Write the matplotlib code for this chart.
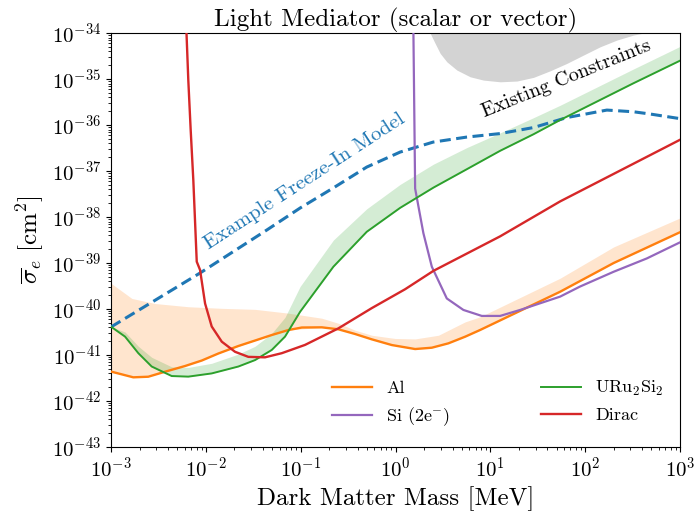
import numpy as np
import matplotlib
matplotlib.use("Agg")
import matplotlib.pyplot as plt
from matplotlib.ticker import LogLocator, NullFormatter

plt.rcParams['font.family'] = 'serif'
plt.rcParams['font.serif'] = ['cmr10']
plt.rcParams['mathtext.fontset'] = 'cm'
plt.rcParams['axes.formatter.use_mathtext'] = True

# ---- data (log10 mass [MeV], log10 cross section [cm^2]) ----
al_logm = [-3.0, -2.765, -2.607, -2.430, -2.219, -2.043, -1.868, -1.657, -1.481, -1.305, -1.130, -0.988,
           -0.777, -0.602, -0.426, -0.250, -0.039, 0.207, 0.383, 0.558, 0.734, 0.892, 1.736, 2.30, 3.0]
al_logs = [-41.36, -41.485, -41.472, -41.363, -41.239, -41.120, -40.967, -40.804, -40.685, -40.565, -40.457, -40.402,
           -40.398, -40.441, -40.543, -40.659, -40.783, -40.870, -40.841, -40.746, -40.602, -40.456, -39.624, -39.0, -38.33]
al_band_logm = [-3.0, -2.78, -2.536, -2.185, -1.832, -1.481, -1.130, -0.777, -0.602, -0.426, -0.250, -0.004,
                0.207, 0.453, 0.734, 0.892, 1.736, 2.30, 3.0]
al_band_up = [-39.44, -39.77, -39.88, -39.95, -39.985, -40.007, -40.09, -40.20, -40.31, -40.46, -40.57, -40.64,
              -40.65, -40.57, -40.28, -40.17, -39.33, -38.65, -38.02]

uru_logm = [-3.0, -2.852, -2.712, -2.571, -2.36, -2.185, -1.938, -1.657, -1.481, -1.305, -1.165, -1.006,
            -0.655, -0.303, 0.049, 0.40, 0.752, 1.103, 1.455, 1.736, 2.51, 3.0]
uru_logs = [-40.384, -40.60, -40.96, -41.25, -41.457, -41.47, -41.40, -41.25, -41.11, -40.89, -40.60, -40.06,
            -39.08, -38.32, -37.80, -37.36, -36.96, -36.56, -36.20, -35.89, -35.09, -34.6]
uru_band_off = [0.0, 0.1, 0.15, 0.2, 0.2, 0.2, 0.22, 0.27, 0.3, 0.36, 0.42, 0.55,
                0.58, 0.5, 0.51, 0.51, 0.47, 0.39, 0.36, 0.32, 0.31, 0.31]

dirac_logm = [-2.204, -2.185, -2.16, -2.132, -2.096, -2.061, -2.008, -1.938, -1.832, -1.692, -1.552, -1.376,
              -1.199, -0.954, -0.602, -0.250, 0.101, 0.40, 1.103, 1.736, 3.0]
dirac_logs = [-34.0, -35.02, -36.1, -37.2, -38.97, -39.15, -39.88, -40.38, -40.71, -40.93, -41.04, -41.05,
              -40.96, -40.78, -40.42, -39.98, -39.57, -39.17, -38.42, -37.66, -36.32]

si_logm = [0.189, 0.207, 0.294, 0.383, 0.541, 0.716, 0.910, 1.103, 1.314, 1.736, 1.947, 2.30, 2.65, 3.0]
si_logs = [-34.0, -37.38, -38.35, -39.08, -39.77, -40.02, -40.15, -40.15, -40.02, -39.73, -39.51, -39.19, -38.9, -38.55]

fi_logm = [-3.0, -2.061, -1.358, -1.006, -0.658, -0.303, 0.049, 0.397, 0.752, 1.103, 1.455, 1.807, 2.229, 2.510, 2.686, 3.0]
fi_logs = [-40.39, -39.217, -38.283, -37.804, -37.370, -36.913, -36.587, -36.370, -36.261, -36.185, -36.054, -35.837,
           -35.674, -35.711, -35.76, -35.86]

con_logm = [0.365, 0.418, 0.471, 0.541, 0.647, 0.787, 0.927, 1.103, 1.280, 1.455, 1.631, 1.807, 1.982, 2.158, 2.334, 2.510, 2.615]
con_logs = [-34.0, -34.224, -34.441, -34.624, -34.804, -34.950, -35.022, -35.059, -35.043, -34.963, -34.820, -34.659,
            -34.478, -34.298, -34.152, -34.043, -34.0]

def p(a):
    return 10.0 ** np.asarray(a, dtype=float)

fig = plt.figure(figsize=(6.96, 5.17), dpi=100)
ax = fig.add_axes([0.1595, 0.1354, 0.8175, 0.8006])

# existing constraints
ax.fill_between(p(con_logm), p(con_logs), 1e-30, color='#d3d3d3', lw=0, zorder=1)

# bands
ax.fill_between(p(al_band_logm), p(np.interp(al_band_logm, al_logm, al_logs)), p(al_band_up),
                color='#ff7f0e', alpha=0.2, lw=0, zorder=1)
ax.fill_between(p(uru_logm), p(uru_logs), p(np.add(uru_logs, uru_band_off)),
                color='#2ca02c', alpha=0.2, lw=0, zorder=1)

ax.plot(p(fi_logm), p(fi_logs), color='#1f77b4', ls=(0, (3.6, 1.8)), lw=2.2, zorder=3)
l_al, = ax.plot(p(al_logm), p(al_logs), color='#ff7f0e', lw=1.7, label='Al', zorder=3)
l_si, = ax.plot(p(si_logm), p(si_logs), color='#9467bd', lw=1.6, label=r'Si (2e$^{-}$)', zorder=3)
l_uru, = ax.plot(p(uru_logm), p(uru_logs), color='#2ca02c', lw=1.4, label=r'URu$_2$Si$_2$', zorder=3)
l_dir, = ax.plot(p(dirac_logm), p(dirac_logs), color='#d62728', lw=1.7, label='Dirac', zorder=3)

ax.set_xscale('log')
ax.set_yscale('log')
ax.set_xlim(1e-3, 1e3)
ax.set_ylim(1e-43, 1e-34)
ax.yaxis.set_major_locator(LogLocator(base=10, numticks=20))
ax.yaxis.set_minor_locator(LogLocator(base=10, subs=np.arange(2, 10), numticks=200))
ax.yaxis.set_minor_formatter(NullFormatter())
ax.xaxis.set_minor_locator(LogLocator(base=10, subs=np.arange(2, 10), numticks=200))
ax.xaxis.set_minor_formatter(NullFormatter())
ax.tick_params(labelsize=15)
ax.xaxis.get_offset_text().set_visible(False)
ax.yaxis.get_offset_text().set_visible(False)

ax.set_xlabel('Dark Matter Mass [MeV]', fontsize=18)
ax.set_ylabel(r'$\overline{\sigma}_e\ [\mathrm{cm}^2]$', fontsize=18)
ax.set_title('Light Mediator (scalar or vector)', fontsize=18, pad=3)

ax.text(10 ** -0.954, 10 ** -37.22, 'Example Freeze-In Model', color='#1f77b4', fontsize=15,
        rotation=33, ha='center', va='center')
ax.text(10 ** 1.80, 10 ** -34.99, 'Existing Constraints', color='black', fontsize=14.5,
        rotation=22, ha='center', va='center')

ax.legend(handles=[l_al, l_si, l_uru, l_dir], ncol=2, frameon=False, fontsize=13,
          loc='lower right', bbox_to_anchor=(1.0, 0.007), columnspacing=5.0, handlelength=2.2)

fig.savefig('out.png', dpi=100)
